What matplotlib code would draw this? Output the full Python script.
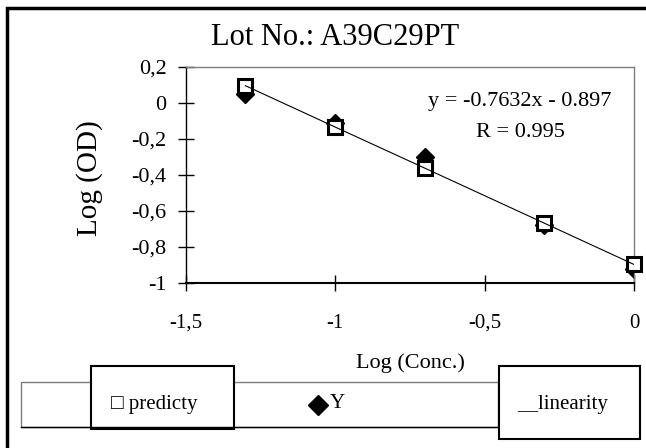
import matplotlib
matplotlib.use("Agg")
import matplotlib.pyplot as plt
from matplotlib.patches import Rectangle
from matplotlib.lines import Line2D
from matplotlib.ticker import FuncFormatter, MultipleLocator

plt.rcParams['font.family'] = ['Liberation Serif', 'DejaVu Sans']

# data
log_conc = [-1.301, -1.0, -0.699, -0.301, 0.0]       # Log (Conc.)
y_obs = [0.05, -0.11, -0.30, -0.68, -0.92]            # Y (diamonds)
y_pred = [0.096, -0.134, -0.363, -0.667, -0.897]      # predicty (squares)
title = "Lot No.: A39C29PT"
equation = "y = -0.7632x - 0.897"
r_text = "R = 0.995"

W, H = 646, 448
fig = plt.figure(figsize=(W / 100, H / 100), dpi=100)


def fx(x):  # pixel -> figure fraction
    return x / W


def fy(y):
    return 1 - y / H


# axes placed in pixels: left 186, right 634, top 67, bottom 283
ax = fig.add_axes([fx(186), fy(283), fx(634 - 186), (283 - 67) / H])

ax.plot(log_conc, y_obs, linestyle='none', marker='D', markersize=9,
        color='black', zorder=2)
ax.plot(log_conc, y_pred, linestyle='none', marker='s', markersize=10,
        markerfacecolor='white', markeredgecolor='black',
        markeredgewidth=2.2, zorder=3, clip_on=False)
ax.plot(log_conc, y_pred, color='black', linewidth=0.8, zorder=4)

ax.set_xlim(-1.5, 0)
ax.set_ylim(-1, 0.2)
ax.xaxis.set_major_locator(MultipleLocator(0.5))
ax.yaxis.set_major_locator(MultipleLocator(0.2))
comma = FuncFormatter(lambda v, p: ('%g' % round(v, 2)).replace('.', ','))
ax.xaxis.set_major_formatter(comma)
ax.yaxis.set_major_formatter(comma)
ax.tick_params(axis='y', direction='inout', length=12, width=1,
               labelsize=16, pad=8)
ax.tick_params(axis='x', direction='inout', length=12, width=1,
               labelsize=15, pad=16)

for s in ['top', 'right']:
    ax.spines[s].set_color('#7f7f7f')
    ax.spines[s].set_linewidth(1)
ax.spines['left'].set_linewidth(1)
ax.spines['bottom'].set_linewidth(1.5)

ax.text(0.7455, 0.838, equation, transform=ax.transAxes, ha='center',
        va='center', fontsize=16)
ax.text(0.7455, 0.699, r_text, transform=ax.transAxes, ha='center',
        va='center', fontsize=16)

# titles and axis labels
fig.text(fx(335), fy(45), title, ha='center', va='baseline', fontsize=22)
fig.text(fx(90), fy(178), "Log (OD)", ha='center', va='center',
         rotation=90, fontsize=21)
fig.text(fx(410), fy(363), "Log (Conc.)", ha='center', va='center',
         fontsize=16)

# outer chart frame (runs off the right and bottom edges)
fig.add_artist(Rectangle((fx(7), fy(600)), fx(800), (600 - 8) / H,
                         transform=fig.transFigure, fill=False,
                         edgecolor='black', linewidth=2.5))

# legend strip
fig.add_artist(Rectangle((fx(21), fy(427)), fx(498 - 21), 45 / H,
                         transform=fig.transFigure, facecolor='white',
                         edgecolor='#7f7f7f', linewidth=1))
fig.add_artist(Line2D([fx(21), fx(498)], [fy(427), fy(427)],
                      transform=fig.transFigure, color='black', linewidth=1))
fig.add_artist(Rectangle((fx(91), fy(429)), fx(234 - 91), (429 - 366) / H,
                         transform=fig.transFigure, facecolor='white',
                         edgecolor='black', linewidth=1.5))
fig.add_artist(Rectangle((fx(499), fy(439)), fx(640 - 499), (439 - 366) / H,
                         transform=fig.transFigure, facecolor='white',
                         edgecolor='black', linewidth=1.5))
fig.text(fx(111), fy(404), "\u25a1 predicty", ha='left', va='center',
         fontsize=15)
fig.add_artist(Line2D([fx(318)], [fy(405)], transform=fig.transFigure,
                      marker='D', markersize=10, color='black',
                      linestyle='none'))
fig.text(fx(330), fy(403), "Y", ha='left', va='center', fontsize=15)
fig.text(fx(517), fy(404), "__linearity", ha='left', va='center',
         fontsize=15)

fig.savefig("out.png", dpi=100)
